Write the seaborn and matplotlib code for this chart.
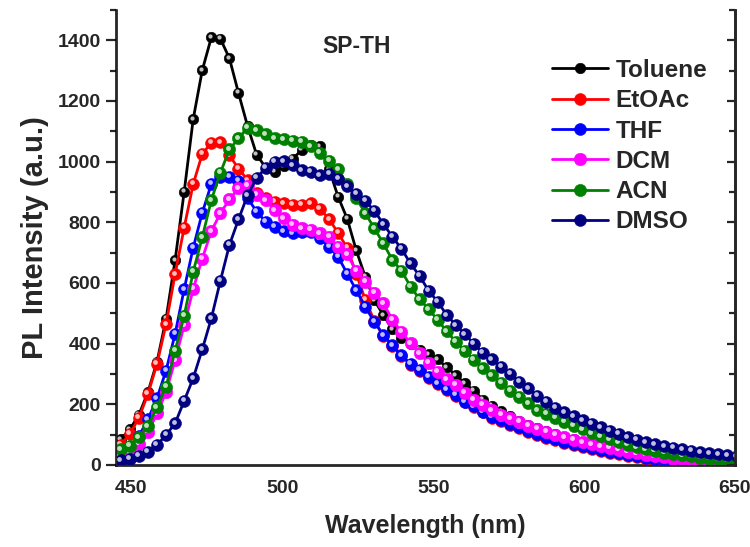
import numpy as np
import matplotlib
matplotlib.use("Agg")
import matplotlib.pyplot as plt
import matplotlib.transforms as mtransforms
from matplotlib.lines import Line2D
from matplotlib.colors import to_rgb
import seaborn as sns

# --- data (PL spectra, SP-TH in six solvents) ---
wavelength = np.arange(446.5, 651, 3.0)

toluene = [85, 117, 165, 240, 340, 481, 675, 900, 1140, 1301,
           1409, 1405, 1340, 1226, 1117, 1023, 980, 966, 985, 1010,
           1038, 1055, 1050, 975, 884, 812, 708, 620, 543, 494,
           447, 420, 398, 380, 365, 348, 322, 296, 269, 245,
           215, 195, 177, 162, 146, 133,
           121, 111, 102, 93, 85, 77, 70, 64, 58, 52, 46, 41, 36, 31,
           27, 23, 20, 17, 15, 13, 11, 9, 8]
etoac = [66, 102, 155, 234, 333, 464, 629, 782, 926, 1025,
         1062, 1064, 1020, 977, 939, 895, 879, 868, 862, 858,
         857, 862, 845, 810, 765, 715, 630, 545, 475,
         425, 392, 359, 330, 310, 288, 266, 246, 228, 206,
         191, 173, 156, 144, 133, 121, 110, 100, 90, 81,
         73, 65, 58, 52, 46, 41, 35, 30, 25, 21,
         17, 14, 11, 9, 7, 5, 4, 2, 1, 1]
thf = [45, 60, 95, 150, 220, 311, 432, 579, 716, 831,
       926, 948, 950, 937, 880, 835, 802, 785, 770, 763,
       768, 768, 747, 719, 686, 631, 576, 521, 472,
       428, 395, 362, 333, 313, 291, 269, 249, 231, 209,
       194, 176, 159, 147, 136, 124, 113, 103, 93, 84,
       76, 68, 61, 55, 49, 44, 38, 33, 28, 24,
       20, 17, 14, 12, 10, 8, 7, 5, 4, 3]
dcm = [30, 45, 70, 110, 170, 240, 345, 460, 580, 680,
       770, 830, 875, 912, 920, 890, 872, 840, 813, 791,
       780, 776, 763, 752, 719, 695, 640, 604, 568, 533,
       478, 439, 401, 368, 337, 307, 282, 264, 238, 214,
       198, 181, 165, 154, 142, 130,
       119, 109, 100, 91, 83, 75, 68, 62, 56, 50, 44, 39, 34, 29,
       25, 21, 18, 15, 13, 11, 9, 7, 6]
acn = [52, 63, 91, 128, 190, 258, 377, 491, 637, 750,
       873, 963, 1040, 1076, 1112, 1103, 1090, 1076, 1073, 1068,
       1065, 1051, 1029, 1003, 974, 925, 880, 830, 780, 730,
       675, 640, 588, 546, 513, 478, 440, 406, 377, 346,
       318, 296, 271, 245, 225, 203, 181, 168, 155, 142,
       129, 117, 105, 94, 84, 75, 67, 59, 52, 46,
       41, 36, 32, 28, 24, 21, 18, 16, 14]
dmso = [15, 20, 31, 44, 66, 99, 137, 211, 286, 381,
        483, 607, 725, 809, 889, 946, 979, 999, 1001, 988,
        972, 966, 955, 959, 944, 919, 893, 871, 838, 794,
        752, 712, 664, 623, 574, 538, 494, 461, 431, 399,
        370, 348, 324, 300, 275, 253, 228, 209, 189, 173,
        160, 148, 136, 124, 113, 102, 92, 83, 75, 68,
        61, 56, 51, 46, 42, 38, 35, 32, 29]

solvents = ["Toluene", "EtOAc", "THF", "DCM", "ACN", "DMSO"]
series = [toluene, etoac, thf, dcm, acn, dmso]
colors = ["#000000", "#FF0000", "#0000FF", "#FF00FF", "#008000", "#000080"]
msizes = [7.6, 8.6, 8.6, 9.0, 8.8, 8.6]

sns.set_style("white")
plt.rcParams["font.family"] = ["Liberation Sans", "DejaVu Sans"]
plt.rcParams["font.weight"] = "bold"
plt.rcParams["axes.labelweight"] = "bold"

fig = plt.figure(figsize=(7.5, 5.47), dpi=100)
ax = fig.add_axes([0.155, 0.15, 0.825, 0.832])

# small offset for the glossy highlight on each ball marker
hl_trans = mtransforms.offset_copy(ax.transData, fig=fig, x=-1.1, y=1.1, units="points")

handles = []
for i, (name, vals, c, ms) in enumerate(zip(solvents, series, colors, msizes)):
    sns.lineplot(x=wavelength, y=vals, ax=ax, color=c, lw=2.0, marker="o",
                 markersize=ms, markeredgewidth=0.4, markeredgecolor=c,
                 sort=False, estimator=None, zorder=3 + 2 * i)
    light = tuple(0.25 * v + 0.75 for v in to_rgb(c))
    ax.plot(wavelength, vals, ls="none", marker="o", markersize=ms * 0.4,
            markerfacecolor=light, markeredgewidth=0, transform=hl_trans,
            zorder=4 + 2 * i)
    handles.append(Line2D([], [], color=c, lw=2.0, marker="o", markersize=ms,
                          markeredgecolor=c, markeredgewidth=0.4))

ax.set_xlim(445, 650)
ax.set_ylim(0, 1500)
ax.set_xticks([450, 500, 550, 600, 650])
ax.set_xticks([475, 525, 575, 625], minor=True)
ax.set_yticks(np.arange(0, 1401, 200))
ax.set_yticks(np.arange(100, 1501, 200), minor=True)

for side in ["left", "bottom", "right"]:
    ax.spines[side].set_linewidth(1.8)
    ax.spines[side].set_color("black")
ax.spines["top"].set_visible(False)

ax.tick_params(axis="both", which="major", direction="out", length=7, width=1.6,
               labelsize=14, pad=4)
ax.tick_params(axis="both", which="minor", direction="out", length=4, width=1.6)
ax.tick_params(right=False, top=False)

# right-hand axis: inward ticks only
ax2 = ax.twinx()
ax2.set_ylim(ax.get_ylim())
ax2.set_yticks(ax.get_yticks())
ax2.set_yticks(np.arange(100, 1501, 200), minor=True)
ax2.tick_params(axis="y", which="major", direction="in", length=6, width=1.6, labelright=False)
ax2.tick_params(axis="y", which="minor", direction="in", length=4, width=1.6)
ax2.spines["top"].set_visible(False)
ax2.spines["right"].set_linewidth(1.8)
ax2.grid(False)

ax.set_xlabel("Wavelength (nm)", fontsize=18, fontweight="bold", labelpad=12)
ax.set_ylabel("PL Intensity (a.u.)", fontsize=21, fontweight="bold", labelpad=6)

ax.text(0.389, 0.919, "SP-TH", transform=ax.transAxes, fontsize=16.5,
        fontweight="bold", ha="center", va="center")

ax.legend(handles, solvents, loc="upper left", bbox_to_anchor=(0.705, 0.892),
          frameon=False, handlelength=2.3, handletextpad=0.3, labelspacing=0.3,
          borderaxespad=0, borderpad=0, prop={"weight": "bold", "size": 17.5})

fig.savefig("out.png", dpi=100)
